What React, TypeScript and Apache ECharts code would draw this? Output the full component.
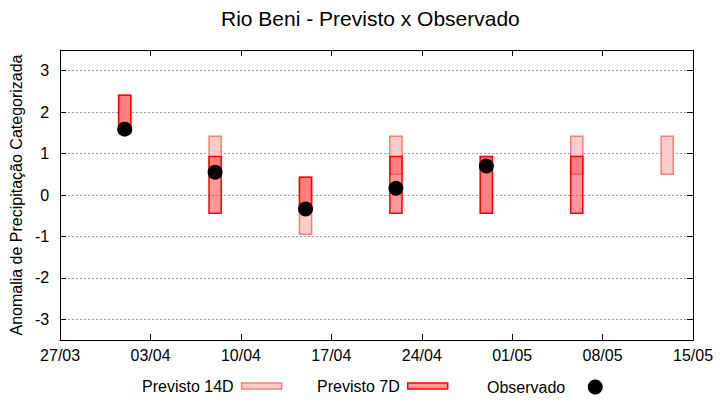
import React, { useEffect, useRef } from "react";
import * as echarts from "echarts";

const YEAR = 2024;
const START = "27/03";
const tickLabels = ["27/03", "03/04", "10/04", "17/04", "24/04", "01/05", "08/05", "15/05"];
const forecastDates = ["01/04", "08/04", "15/04", "22/04", "29/04", "06/05", "13/05"];
const prev14Low = [1.5, 0.5, -0.95, 0.5, -0.44, 0.5, 0.5];
const prev14High = [2.41, 1.42, 0.43, 1.42, 0.93, 1.42, 1.42];
const prev7Low: (number | null)[] = [1.5, -0.44, -0.3, -0.44, -0.44, -0.44, null];
const prev7High: (number | null)[] = [2.41, 0.93, 0.43, 0.93, 0.93, 0.93, null];
const observed: (number | null)[] = [1.59, 0.55, -0.34, 0.16, 0.7, null, null];

const FONT = "'Liberation Sans', Arial, sans-serif";
const BAR_DAYS = 0.94;
const C14_FILL = "#ffcccc";
const C14_STROKE = "#f08078";
const C7_FILL = "rgba(255,51,51,0.5)";
const C7_STROKE = "#ff0000";

function dayOffset(s: string): number {
  const [d, m] = s.split("/").map(Number);
  const [d0, m0] = START.split("/").map(Number);
  return (Date.UTC(YEAR, m - 1, d) - Date.UTC(YEAR, m0 - 1, d0)) / 86400000;
}

const makeRender = (fill: string, stroke: string) => (params: any, api: any) => {
  const x = api.value(0);
  const lo = api.value(1);
  const hi = api.value(2);
  const top = api.coord([x, hi]);
  const bot = api.coord([x, lo]);
  const w = api.size([BAR_DAYS, 0])[0];
  return {
    type: "rect",
    shape: { x: top[0] - w / 2, y: top[1], width: w, height: bot[1] - top[1] },
    style: { fill, stroke, lineWidth: 1.5 },
  };
};

export default function App() {
  const ref = useRef<HTMLDivElement>(null);
  useEffect(() => {
    if (!ref.current) return;
    const chart = echarts.init(ref.current, undefined, { renderer: "svg" });
    const d14 = forecastDates.map((d, i) => [dayOffset(d), prev14Low[i], prev14High[i]]);
    const d7 = forecastDates
      .map((d, i) => [dayOffset(d), prev7Low[i], prev7High[i]])
      .filter((r) => r[1] !== null && r[2] !== null);
    const dObs = forecastDates
      .map((d, i) => [dayOffset(d), observed[i]])
      .filter((r) => r[1] !== null);
    const maxDay = (tickLabels.length - 1) * 7;
    const text = { color: "#000", fontFamily: FONT, fontSize: 16 };
    const axisLine = { show: true, onZero: false, lineStyle: { color: "#000", width: 1 } };
    const axisTick = { show: true, inside: true, length: 6, lineStyle: { color: "#000" } };
    const legendBase = {
      top: 378,
      orient: "horizontal",
      align: "right",
      padding: 0,
      selectedMode: false,
      itemWidth: 40,
      itemHeight: 6,
      textStyle: { ...text, padding: [0, 3, 0, 0] },
    };
    chart.setOption({
      animation: false,
      backgroundColor: "#fff",
      title: {
        text: "Rio Beni - Previsto x Observado",
        left: 221,
        top: 8,
        padding: 0,
        textStyle: { color: "#000", fontFamily: FONT, fontSize: 21, fontWeight: "normal" },
      },
      legend: [
        {
          ...legendBase,
          left: 142,
          data: [
            {
              name: "Previsto 14D",
              icon: "rect",
              itemStyle: { color: C14_FILL, borderColor: C14_STROKE, borderWidth: 1.5 },
            },
          ],
        },
        {
          ...legendBase,
          left: 317,
          data: [
            {
              name: "Previsto 7D",
              icon: "rect",
              itemStyle: { color: "#ff9999", borderColor: C7_STROKE, borderWidth: 1.5 },
            },
          ],
        },
        {
          ...legendBase,
          left: 487,
          top: 379,
          itemWidth: 50,
          itemHeight: 15,
          textStyle: text,
          data: [{ name: "Observado", icon: "circle", itemStyle: { color: "#000", opacity: 1 } }],
        },
      ],
      grid: { left: 55.5, right: 27, top: 50, bottom: 60, containLabel: false },
      xAxis: [
        {
          type: "value",
          min: 0,
          max: maxDay,
          interval: 7,
          axisLine,
          axisTick,
          axisLabel: {
            ...text,
            margin: 7,
            formatter: (v: number) => tickLabels[Math.round(v / 7)] ?? "",
          },
          splitLine: { show: false },
        },
        {
          type: "value",
          position: "top",
          min: 0,
          max: maxDay,
          interval: 7,
          axisLine,
          axisTick,
          axisLabel: { show: false },
          splitLine: { show: false },
        },
      ],
      yAxis: [
        {
          type: "value",
          min: -3.5,
          max: 3.5,
          splitNumber: 7,
          name: "Anomalia de Precipitação Categorizada",
          nameLocation: "middle",
          nameGap: 28,
          nameTextStyle: text,
          axisLine,
          axisTick,
          axisLabel: {
            ...text,
            margin: 11,
            showMinLabel: false,
            showMaxLabel: false,
            formatter: (v: number) => (Number.isInteger(v) ? String(v) : ""),
          },
          splitLine: { show: true, lineStyle: { color: "#999", width: 1, type: [2, 2] } },
        },
        {
          type: "value",
          position: "right",
          min: -3.5,
          max: 3.5,
          splitNumber: 7,
          axisLine,
          axisTick,
          axisLabel: { show: false },
          splitLine: { show: false },
        },
      ],
      series: [
        {
          name: "Previsto 14D",
          type: "custom",
          xAxisIndex: 0,
          yAxisIndex: 0,
          z: 2,
          encode: { x: 0, y: [1, 2] },
          itemStyle: { color: C14_FILL },
          renderItem: makeRender(C14_FILL, C14_STROKE),
          data: d14,
        },
        {
          name: "Previsto 7D",
          type: "custom",
          xAxisIndex: 0,
          yAxisIndex: 0,
          z: 3,
          encode: { x: 0, y: [1, 2] },
          itemStyle: { color: "#ff9999" },
          renderItem: makeRender(C7_FILL, C7_STROKE),
          data: d7,
        },
        {
          name: "Observado",
          type: "scatter",
          xAxisIndex: 0,
          yAxisIndex: 0,
          z: 4,
          symbol: "circle",
          symbolSize: 15,
          itemStyle: { color: "#000", opacity: 1 },
          emphasis: { disabled: true },
          data: dObs,
        },
      ],
    });
    return () => chart.dispose();
  }, []);
  return (
    <div
      ref={ref}
      style={{ position: "fixed", left: 0, top: 0, width: 720, height: 400, background: "#fff" }}
    />
  );
}
